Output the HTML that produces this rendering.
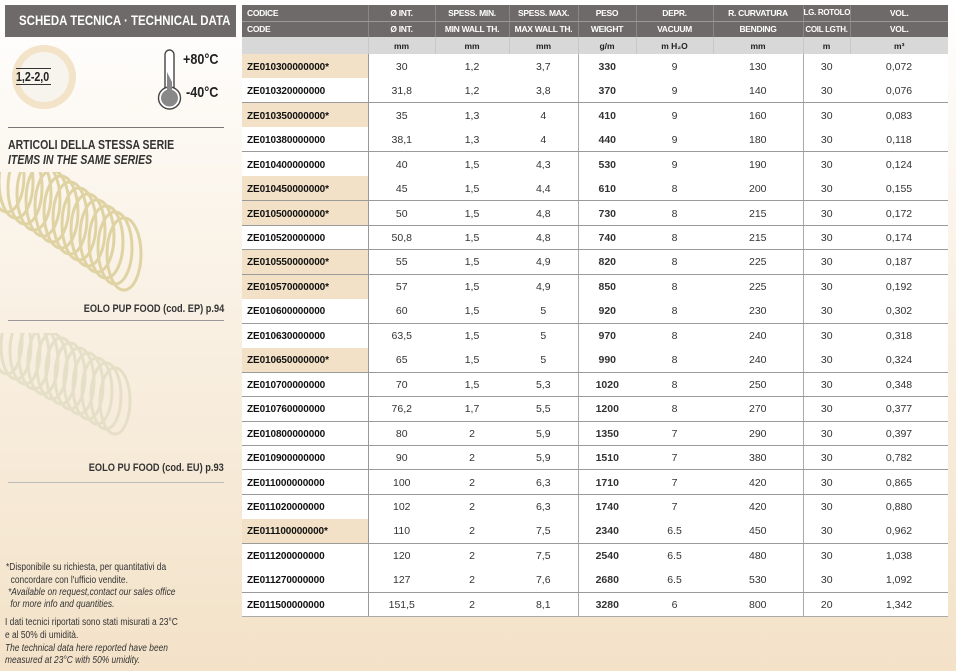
<!DOCTYPE html>
<html><head><meta charset="utf-8"><style>
*{margin:0;padding:0;box-sizing:border-box}
body{width:956px;height:671px;overflow:hidden;position:relative;background:linear-gradient(#ffffff 0px,#fbf5ec 200px,#f3e2c8 671px);font-family:"Liberation Sans",sans-serif;color:#222}
.abs{position:absolute}
.n{display:inline-block;transform:scaleX(0.84);transform-origin:left center;white-space:nowrap}
.nr{display:inline-block;transform:scaleX(0.84);transform-origin:right center;white-space:nowrap}
table{position:absolute;left:242px;top:5px;border-collapse:collapse;table-layout:fixed;width:706px;background:#fff}
td{font-size:10.5px;text-align:center;white-space:nowrap;overflow:hidden;padding:0;vertical-align:middle}
tr.h td{background:#6d6a69;color:#fff;font-weight:bold;font-size:8.5px;height:16px;border-left:1px solid #888;letter-spacing:-0.3px}
tr.h1 td{border-bottom:1px solid #999}
tr.u td{background:#d8d8d8;font-weight:bold;font-size:8.5px;height:17px;border-left:1px solid #c8c8c8}
tr.h td:first-child,tr.u td:first-child{text-align:left;padding-left:5px;border-left:none}
tr.d td{height:24.48px;color:#333;padding-top:1px}
tr.d td:first-child{text-align:left;padding-left:5px;font-weight:bold;color:#111;border-right:1px solid #999;font-size:10px;letter-spacing:-0.1px;padding-top:2px}
tr.d td:nth-child(5){font-weight:bold}
tr.d td:nth-child(4){border-right:1px solid #aaa}
tr.d td:nth-child(7){border-right:1px solid #aaa}
tr.b td{border-bottom:1px solid #9a9a9a}
tr.s td:first-child{background:#f2e1c6}
tr.last td{border-bottom:1px solid #aaa}
</style></head><body>
<div class="abs" style="left:5px;top:5px;width:231px;height:32px;background:#6d6a69;color:#fff;font-weight:bold;font-size:13.5px;line-height:32px;padding-left:14px"><span class="n" style="transform:scaleX(0.85)">SCHEDA TECNICA · TECHNICAL DATA</span></div>
<div class="abs" style="left:12px;top:45px;width:64px;height:64px;border-radius:50%;background:#f3e3c9"></div>
<div class="abs" style="left:19px;top:52px;width:50px;height:50px;border-radius:50%;background:#f7f4ee"></div>
<div class="abs" style="left:16px;top:68px;width:35px;font-size:13px;font-weight:bold;border-top:1px solid #333;border-bottom:1px solid #333;line-height:15px;white-space:nowrap"><span class="n" style="transform:scaleX(0.82)">1,2-2,0</span></div>
<svg class="abs" style="left:150px;top:48px" width="40" height="64"><rect x="15" y="2" width="9" height="46" rx="4.5" fill="#fff" stroke="#444" stroke-width="1.4"/><circle cx="19.5" cy="50" r="11" fill="#fff" stroke="#444" stroke-width="1.4"/><circle cx="19.5" cy="50" r="8.5" fill="#888"/><path d="M17 24 L22 34 L22 44 L17 44Z" fill="#888"/></svg>
<div class="abs" style="left:183px;top:51px;font-size:15px;font-weight:bold"><span class="n">+80°C</span></div>
<div class="abs" style="left:186px;top:84px;font-size:15px;font-weight:bold"><span class="n">-40°C</span></div>
<div class="abs" style="left:8px;top:127px;width:216px;height:1px;background:#777"></div>
<div class="abs" style="left:8px;top:138px;font-size:12.5px;font-weight:bold;color:#333"><span class="n">ARTICOLI DELLA STESSA SERIE</span></div>
<div class="abs" style="left:8px;top:153px;font-size:12.5px;font-weight:bold;font-style:italic;color:#333"><span class="n">ITEMS IN THE SAME SERIES</span></div>
<svg class="abs" style="left:0;top:172px" width="150" height="125">
<g fill="none" stroke="#e0d3a3" stroke-width="3">
<ellipse cx="124" cy="82" rx="17" ry="36"/><ellipse cx="115" cy="76" rx="17" ry="36"/><ellipse cx="106" cy="70" rx="17" ry="36"/><ellipse cx="97" cy="64" rx="17" ry="36"/><ellipse cx="88" cy="58" rx="17" ry="36"/><ellipse cx="79" cy="52" rx="17" ry="36"/><ellipse cx="70" cy="46" rx="17" ry="36"/><ellipse cx="61" cy="40" rx="17" ry="36"/><ellipse cx="52" cy="34" rx="17" ry="36"/><ellipse cx="43" cy="28" rx="17" ry="36"/><ellipse cx="34" cy="22" rx="17" ry="36"/><ellipse cx="25" cy="16" rx="17" ry="36"/><ellipse cx="16" cy="10" rx="17" ry="36"/><ellipse cx="7" cy="4" rx="17" ry="36"/></g></svg>
<div class="abs" style="right:732px;top:303px;font-size:11px;font-weight:bold;color:#333"><span class="nr">EOLO PUP FOOD (cod. EP) p.94</span></div>
<div class="abs" style="left:8px;top:320px;width:216px;height:1px;background:#999"></div>
<svg class="abs" style="left:0;top:333px" width="150" height="110">
<g fill="none" stroke="#e6dfc8" stroke-width="3">
<ellipse cx="115" cy="68" rx="15" ry="33"/><ellipse cx="106" cy="63" rx="15" ry="33"/><ellipse cx="97" cy="58" rx="15" ry="33"/><ellipse cx="88" cy="53" rx="15" ry="33"/><ellipse cx="79" cy="48" rx="15" ry="33"/><ellipse cx="70" cy="43" rx="15" ry="33"/><ellipse cx="61" cy="38" rx="15" ry="33"/><ellipse cx="52" cy="33" rx="15" ry="33"/><ellipse cx="43" cy="28" rx="15" ry="33"/><ellipse cx="34" cy="23" rx="15" ry="33"/><ellipse cx="25" cy="18" rx="15" ry="33"/><ellipse cx="16" cy="13" rx="15" ry="33"/><ellipse cx="7" cy="8" rx="15" ry="33"/></g></svg>
<div class="abs" style="right:732px;top:462px;font-size:11px;font-weight:bold;color:#333"><span class="nr">EOLO PU FOOD (cod. EU) p.93</span></div>
<div class="abs" style="left:8px;top:482px;width:216px;height:1px;background:#bbb"></div>
<div class="abs" style="left:6px;top:562px;font-size:10px;line-height:12.5px;color:#333"><span class="n">*Disponibile su richiesta, per quantitativi da<br>&nbsp;&nbsp;concordare con l'ufficio vendite.</span></div>
<div class="abs" style="left:8px;top:587px;font-size:10px;line-height:11.5px;font-style:italic;color:#333"><span class="n">*Available on request,contact our sales office<br>&nbsp;for more info and quantities.</span></div>
<div class="abs" style="left:5px;top:617px;font-size:10px;line-height:12.5px;color:#333"><span class="n">I dati tecnici riportati sono stati misurati a 23°C<br>e al 50% di umidità.</span></div>
<div class="abs" style="left:5px;top:643px;font-size:10px;line-height:11.5px;font-style:italic;color:#333"><span class="n">The technical data here reported have been<br>measured at 23°C with 50% umidity.</span></div>
<table>
<colgroup><col style="width:126px"><col style="width:67px"><col style="width:74px"><col style="width:69px"><col style="width:58px"><col style="width:77px"><col style="width:90px"><col style="width:47px"><col style="width:98px"></colgroup>
<tr class="h h1"><td>CODICE</td><td>Ø INT.</td><td>SPESS. MIN.</td><td>SPESS. MAX.</td><td>PESO</td><td>DEPR.</td><td>R. CURVATURA</td><td style="font-size:8px">LG. ROTOLO</td><td>VOL.</td></tr>
<tr class="h"><td>CODE</td><td>Ø INT.</td><td>MIN WALL TH.</td><td>MAX WALL TH.</td><td>WEIGHT</td><td>VACUUM</td><td>BENDING</td><td style="font-size:8px">COIL LGTH.</td><td>VOL.</td></tr>
<tr class="u"><td></td><td>mm</td><td>mm</td><td>mm</td><td>g/m</td><td>m H₂O</td><td>mm</td><td>m</td><td>m³</td></tr>
<tr class="d s"><td>ZE010300000000*</td><td>30</td><td>1,2</td><td>3,7</td><td>330</td><td>9</td><td>130</td><td>30</td><td>0,072</td></tr>
<tr class="d b"><td>ZE010320000000</td><td>31,8</td><td>1,2</td><td>3,8</td><td>370</td><td>9</td><td>140</td><td>30</td><td>0,076</td></tr>
<tr class="d s"><td>ZE010350000000*</td><td>35</td><td>1,3</td><td>4</td><td>410</td><td>9</td><td>160</td><td>30</td><td>0,083</td></tr>
<tr class="d b"><td>ZE010380000000</td><td>38,1</td><td>1,3</td><td>4</td><td>440</td><td>9</td><td>180</td><td>30</td><td>0,118</td></tr>
<tr class="d"><td>ZE010400000000</td><td>40</td><td>1,5</td><td>4,3</td><td>530</td><td>9</td><td>190</td><td>30</td><td>0,124</td></tr>
<tr class="d s b"><td>ZE010450000000*</td><td>45</td><td>1,5</td><td>4,4</td><td>610</td><td>8</td><td>200</td><td>30</td><td>0,155</td></tr>
<tr class="d s b"><td>ZE010500000000*</td><td>50</td><td>1,5</td><td>4,8</td><td>730</td><td>8</td><td>215</td><td>30</td><td>0,172</td></tr>
<tr class="d b"><td>ZE010520000000</td><td>50,8</td><td>1,5</td><td>4,8</td><td>740</td><td>8</td><td>215</td><td>30</td><td>0,174</td></tr>
<tr class="d s b"><td>ZE010550000000*</td><td>55</td><td>1,5</td><td>4,9</td><td>820</td><td>8</td><td>225</td><td>30</td><td>0,187</td></tr>
<tr class="d s"><td>ZE010570000000*</td><td>57</td><td>1,5</td><td>4,9</td><td>850</td><td>8</td><td>225</td><td>30</td><td>0,192</td></tr>
<tr class="d b"><td>ZE010600000000</td><td>60</td><td>1,5</td><td>5</td><td>920</td><td>8</td><td>230</td><td>30</td><td>0,302</td></tr>
<tr class="d"><td>ZE010630000000</td><td>63,5</td><td>1,5</td><td>5</td><td>970</td><td>8</td><td>240</td><td>30</td><td>0,318</td></tr>
<tr class="d s b"><td>ZE010650000000*</td><td>65</td><td>1,5</td><td>5</td><td>990</td><td>8</td><td>240</td><td>30</td><td>0,324</td></tr>
<tr class="d b"><td>ZE010700000000</td><td>70</td><td>1,5</td><td>5,3</td><td>1020</td><td>8</td><td>250</td><td>30</td><td>0,348</td></tr>
<tr class="d b"><td>ZE010760000000</td><td>76,2</td><td>1,7</td><td>5,5</td><td>1200</td><td>8</td><td>270</td><td>30</td><td>0,377</td></tr>
<tr class="d b"><td>ZE010800000000</td><td>80</td><td>2</td><td>5,9</td><td>1350</td><td>7</td><td>290</td><td>30</td><td>0,397</td></tr>
<tr class="d b"><td>ZE010900000000</td><td>90</td><td>2</td><td>5,9</td><td>1510</td><td>7</td><td>380</td><td>30</td><td>0,782</td></tr>
<tr class="d b"><td>ZE011000000000</td><td>100</td><td>2</td><td>6,3</td><td>1710</td><td>7</td><td>420</td><td>30</td><td>0,865</td></tr>
<tr class="d"><td>ZE011020000000</td><td>102</td><td>2</td><td>6,3</td><td>1740</td><td>7</td><td>420</td><td>30</td><td>0,880</td></tr>
<tr class="d s b"><td>ZE011100000000*</td><td>110</td><td>2</td><td>7,5</td><td>2340</td><td>6.5</td><td>450</td><td>30</td><td>0,962</td></tr>
<tr class="d"><td>ZE011200000000</td><td>120</td><td>2</td><td>7,5</td><td>2540</td><td>6.5</td><td>480</td><td>30</td><td>1,038</td></tr>
<tr class="d b"><td>ZE011270000000</td><td>127</td><td>2</td><td>7,6</td><td>2680</td><td>6.5</td><td>530</td><td>30</td><td>1,092</td></tr>
<tr class="d last"><td>ZE011500000000</td><td>151,5</td><td>2</td><td>8,1</td><td>3280</td><td>6</td><td>800</td><td>20</td><td>1,342</td></tr>
</table>
</body></html>
